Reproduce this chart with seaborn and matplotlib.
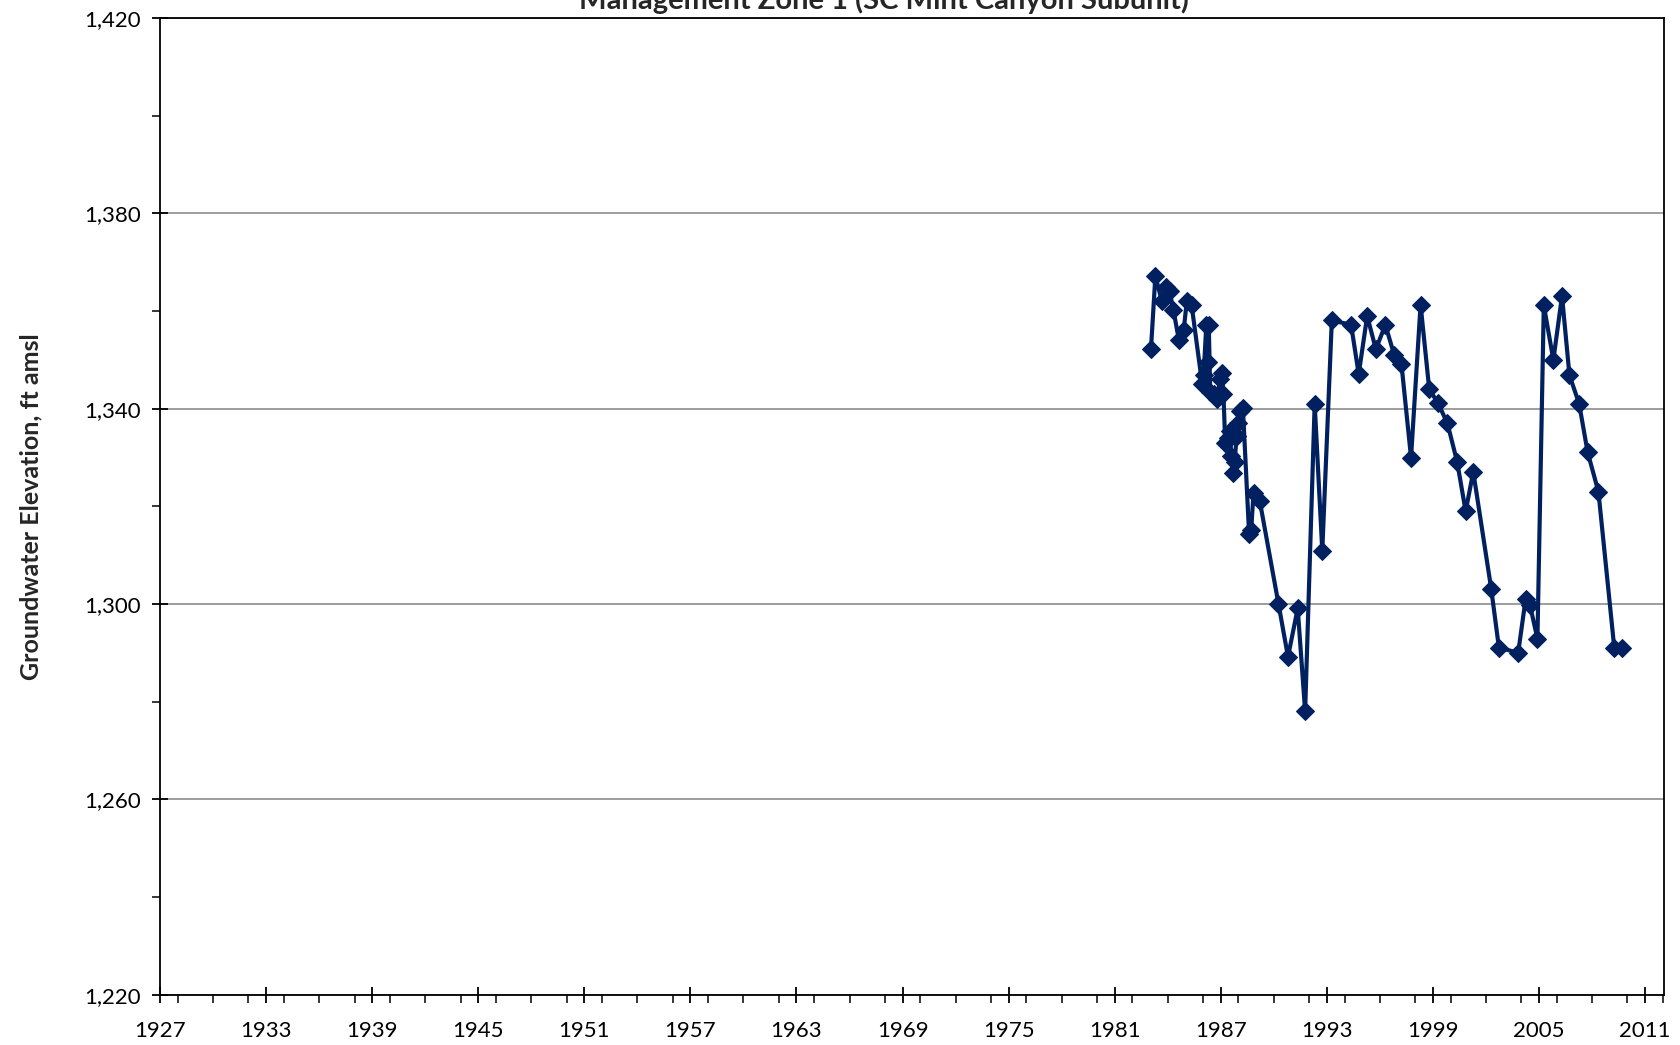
import numpy as np
import pandas as pd
import seaborn as sns
import matplotlib
matplotlib.use("Agg")
import matplotlib.pyplot as plt
from matplotlib.ticker import MultipleLocator, FuncFormatter

# Sample dates (decimal years) and groundwater elevations (ft amsl)
years = [1983.05, 1983.30, 1983.66, 1983.90, 1984.10, 1984.32, 1984.63, 1984.90,
         1985.08, 1985.35, 1985.95, 1986.03, 1986.18, 1986.25, 1986.32, 1986.40,
         1986.60, 1986.80, 1986.95, 1987.05, 1987.15, 1987.25, 1987.40, 1987.50,
         1987.60, 1987.68, 1987.78, 1987.90, 1988.00, 1988.10, 1988.25, 1988.60,
         1988.72, 1988.85, 1989.20, 1990.26, 1990.80, 1991.35, 1991.77, 1992.31,
         1992.74, 1993.28, 1994.37, 1994.80, 1995.28, 1995.77, 1996.31, 1996.80,
         1997.22, 1997.76, 1998.30, 1998.79, 1999.28, 1999.82, 2000.37, 2000.85,
         2001.28, 2002.30, 2002.73, 2003.82, 2004.24, 2004.48, 2004.91, 2005.27,
         2005.81, 2006.30, 2006.72, 2007.27, 2007.75, 2008.36, 2009.26, 2009.72]
elevation = [1352.2, 1367.2, 1362.1, 1365.0, 1364.1, 1360.2, 1354.1, 1356.1,
             1362.1, 1361.2, 1345.0, 1347.0, 1357.2, 1349.5, 1357.2, 1343.5,
             1343.0, 1342.0, 1346.0, 1347.4, 1343.0, 1333.0, 1334.0, 1335.5,
             1330.3, 1326.9, 1329.0, 1334.5, 1337.0, 1339.5, 1340.2, 1314.4,
             1315.2, 1322.8, 1321.2, 1300.1, 1289.2, 1299.1, 1278.0, 1341.0,
             1310.9, 1358.1, 1357.2, 1347.1, 1359.0, 1352.2, 1357.2, 1351.1,
             1349.1, 1330.0, 1361.3, 1344.0, 1341.2, 1337.0, 1329.1, 1319.0,
             1327.1, 1303.0, 1291.1, 1290.0, 1301.0, 1299.9, 1292.9, 1361.2,
             1350.0, 1363.1, 1346.9, 1341.0, 1331.1, 1323.0, 1290.9, 1290.9]
x_ticks = list(range(1927, 2012, 6))
y_ticks = list(range(1220, 1421, 40))

df = pd.DataFrame({"year": years, "elev": elevation})

sns.set_style("white")
plt.rcParams['font.family'] = ['Lato', 'DejaVu Sans']
navy = "#002060"

fig = plt.figure(figsize=(16.81, 10.45), dpi=100)
ax = fig.add_axes([0.0952, 0.0482, 0.8947, 0.9344])

sns.lineplot(data=df, x="year", y="elev", sort=False, color=navy, linewidth=3,
             marker="D", markersize=9, markeredgecolor=navy, ax=ax, zorder=3)

ax.set_xlim(1927, 2012.07)
ax.set_ylim(1220, 1420)
ax.set_xticks(x_ticks)
ax.set_yticks(y_ticks)
ax.xaxis.set_minor_locator(MultipleLocator(2))
ax.yaxis.set_minor_locator(MultipleLocator(20))
ax.yaxis.set_major_formatter(FuncFormatter(lambda v, p: "{:,.0f}".format(v)))
ax.grid(axis="y", which="major", color="#8c8c8c", linewidth=1.2)
ax.set_axisbelow(True)

for s in ax.spines.values():
    s.set_color("black")
    s.set_linewidth(1.3)

ax.tick_params(axis="both", which="major", direction="inout", length=12, width=1.3,
               labelsize=16, colors="black", bottom=True, left=True)
ax.tick_params(axis="both", which="minor", direction="out", length=6, width=1.3,
               bottom=True, left=True)
ax.tick_params(axis="x", pad=13)
ax.tick_params(axis="y", pad=8)

ax.set_xlabel("")
ax.set_ylabel("Groundwater Elevation, ft amsl", fontsize=18, fontweight="bold",
              labelpad=30)

fig.text(0.526, 1.0, "Management Zone 1 (SC Mint Canyon Subunit)", ha="center",
         va="center", fontsize=21, fontweight="bold")

fig.savefig("out.png", dpi=100)
